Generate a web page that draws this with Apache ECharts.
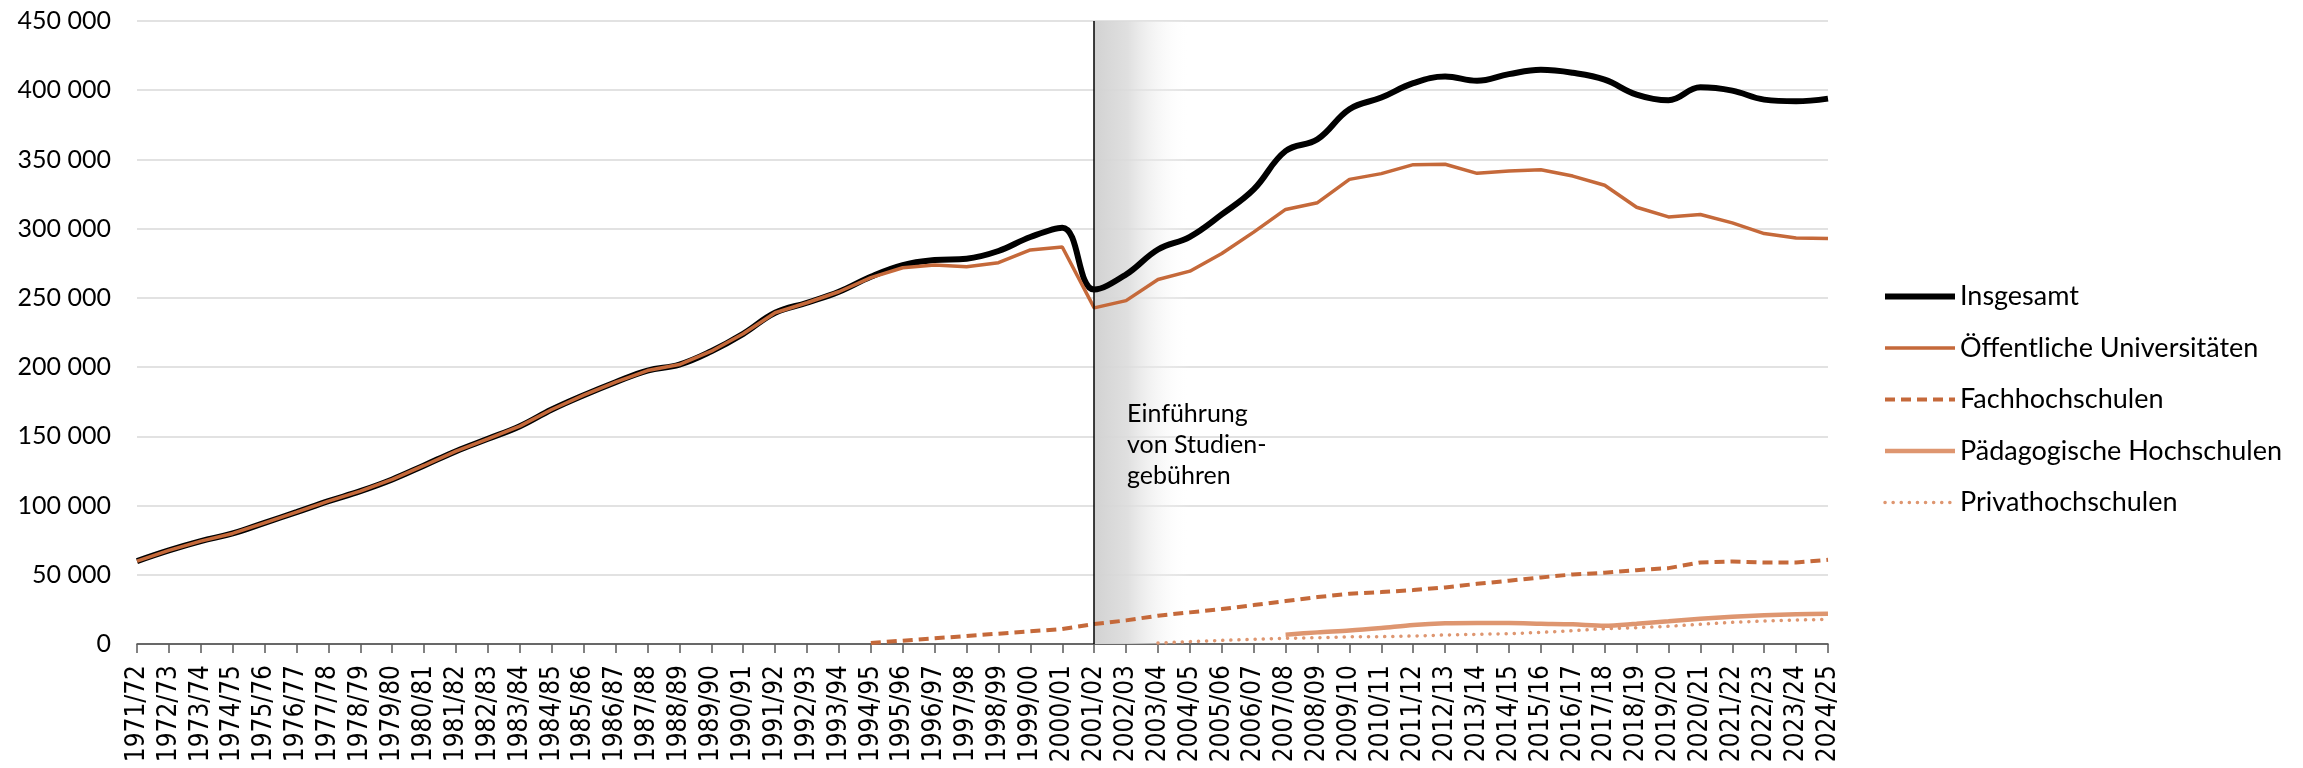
<!DOCTYPE html>
<html>
<head>
<meta charset="utf-8">
<script src="https://cdn.jsdelivr.net/npm/echarts@6/dist/echarts.min.js"></script>
<style>
html,body{margin:0;padding:0;background:#fff;}
#chart{width:2303px;height:768px;}
</style>
</head>
<body>
<div id="chart"></div>
<script>
const categories = ['1971/72','1972/73','1973/74','1974/75','1975/76','1976/77','1977/78','1978/79','1979/80','1980/81',
'1981/82','1982/83','1983/84','1984/85','1985/86','1986/87','1987/88','1988/89','1989/90','1990/91',
'1991/92','1992/93','1993/94','1994/95','1995/96','1996/97','1997/98','1998/99','1999/00','2000/01',
'2001/02','2002/03','2003/04','2004/05','2005/06','2006/07','2007/08','2008/09','2009/10','2010/11',
'2011/12','2012/13','2013/14','2014/15','2015/16','2016/17','2017/18','2018/19','2019/20','2020/21',
'2021/22','2022/23','2023/24','2024/25'];

const insgesamt = [59900, 67600, 74300, 79850, 87550, 95250, 103200, 110400, 118850, 128950,
139300, 148200, 157350, 169400, 179700, 189100, 197500, 201850, 211500, 224050,
239250, 246500, 254450, 265300, 273700, 277350, 278300, 283850, 294000, 300750,
256000, 266900, 284950, 294150, 310300, 328400, 356100, 364600, 386300, 394700,
405100, 409900, 406800, 411600, 414750, 412600, 407650, 396850, 392750, 402100,
399700, 393200, 392000, 393950];

const universitaeten = [59900, 67600, 74300, 79850, 87550, 95250, 103200, 110400, 118850, 128950,
139300, 148200, 157350, 169400, 179700, 189100, 197500, 201850, 211500, 224050,
239250, 246500, 254450, 264600, 271800, 273750, 272500, 275400, 284600, 286750,
242800, 248050, 263250, 269300, 282100, 297500, 313900, 318750, 335600, 339750,
346250, 346500, 339950, 341650, 342600, 338000, 331350, 315450, 308500, 310200,
304150, 296450, 293300, 292850];

const fachhochschulen = [null, null, null, null, null, null, null, null, null, null,
null, null, null, null, null, null, null, null, null, null,
null, null, null, 700, 2400, 4100, 5800, 7450, 9150, 10800,
14400, 17050, 20450, 22850, 25250, 28100, 31000, 33900, 36300, 37500,
38950, 40850, 43500, 45700, 48100, 50250, 51450, 53350, 54800, 58900,
59600, 58900, 58900, 60800];

const paedagogische = [null, null, null, null, null, null, null, null, null, null,
null, null, null, null, null, null, null, null, null, null,
null, null, null, null, null, null, null, null, null, null,
null, null, null, null, null, null, 6700, 8400, 9700, 11550,
13700, 14900, 15150, 15150, 14650, 14200, 13200, 14650, 16350, 18250,
19700, 20700, 21400, 21900];

const privat = [null, null, null, null, null, null, null, null, null, null,
null, null, null, null, null, null, null, null, null, null,
null, null, null, null, null, null, null, null, null, null,
null, null, 700, 1700, 2600, 3350, 4100, 4550, 5150, 5300,
5750, 6500, 7000, 7450, 8400, 9600, 11050, 11800, 12750, 14200,
15650, 16600, 17300, 17800];

const yTicks = {min: 0, max: 450000, interval: 50000};
const seriesNames = ['Insgesamt','Öffentliche Universitäten','Fachhochschulen','Pädagogische Hochschulen','Privathochschulen'];
const eventCategory = '2001/02';
const fadeEndCategory = '2004/05';
const annotation = 'Einführung\nvon Studien-\ngebühren';

const ORANGE = '#C5693A';
const LIGHT = '#DE9670';
const widths = [6, 3.5, 4, 4.5, 3.5];

function fmt(v){ return String(v).replace(/\B(?=(\d{3})+(?!\d))/g, ' '); }

const chart = echarts.init(document.getElementById('chart'), null, {renderer:'canvas'});
chart.setOption({
  animation: false,
  backgroundColor: '#fff',
  grid: {left: 137, right: 475, top: 21, bottom: 124, containLabel: false},
  legend: {
    orient: 'vertical', left: 1877, top: 278,
    itemWidth: 70, itemHeight: 14, itemGap: 24.5,
    itemStyle: {opacity: 0},
    textStyle: {fontFamily: 'Lato', fontSize: 27, color: '#000', lineHeight: 27, padding: [0,0,0,0]},
    data: seriesNames.map((n, i) => ({name: n, lineStyle: {width: widths[i]}}))
  },
  xAxis: {
    type: 'category', data: categories, boundaryGap: false,
    axisLine: {lineStyle: {color: '#404040', width: 1.5}},
    axisTick: {show: true, length: 9, lineStyle: {color: '#595959', width: 1.5}, interval: 0},
    axisLabel: {interval: 0, rotate: 90, margin: 21, fontFamily: 'DejaVu Sans Condensed', fontSize: 26, color: '#000'},
    splitLine: {show: false}
  },
  yAxis: {
    type: 'value', min: yTicks.min, max: yTicks.max, interval: yTicks.interval,
    axisLine: {show: false}, axisTick: {show: false},
    axisLabel: {formatter: fmt, fontFamily: 'Lato', fontSize: 25, color: '#000', margin: 26},
    splitLine: {lineStyle: {color: '#d9d9d9', width: 1.5}}
  },
  graphic: [{
    type: 'text', left: 1127, top: 398, z: 100,
    style: {text: annotation, font: '25px Lato', fill: '#000', lineHeight: 31}
  }],
  series: [
    {
      name: seriesNames[0], type: 'line', data: insgesamt, smooth: 0.4, symbol: 'none', z: 3,
      lineStyle: {color: '#000', width: widths[0]}, itemStyle: {color: '#000'},
      markArea: {
        silent: true,
        itemStyle: {color: {type: 'linear', x: 0, y: 0, x2: 1, y2: 0,
          colorStops: [{offset: 0, color: 'rgba(210,210,210,1)'}, {offset: 0.35, color: 'rgba(220,220,220,0.9)'}, {offset: 1, color: 'rgba(255,255,255,0)'}]}},
        data: [[{xAxis: eventCategory}, {xAxis: fadeEndCategory}]]
      },
      markLine: {
        silent: true, symbol: ['none','none'], label: {show: false},
        lineStyle: {color: '#000', width: 1.5, type: 'solid'},
        data: [{xAxis: eventCategory}]
      }
    },
    {
      name: seriesNames[1], type: 'line', data: universitaeten, smooth: false, symbol: 'none', z: 4,
      lineStyle: {color: ORANGE, width: widths[1]}, itemStyle: {color: ORANGE}
    },
    {
      name: seriesNames[2], type: 'line', data: fachhochschulen, smooth: false, symbol: 'none', z: 4,
      lineStyle: {color: ORANGE, width: widths[2], type: [10, 6]}, itemStyle: {color: ORANGE}
    },
    {
      name: seriesNames[3], type: 'line', data: paedagogische, smooth: 0.3, symbol: 'none', z: 4,
      lineStyle: {color: LIGHT, width: widths[3]}, itemStyle: {color: LIGHT}
    },
    {
      name: seriesNames[4], type: 'line', data: privat, smooth: false, symbol: 'none', z: 4,
      lineStyle: {color: LIGHT, width: widths[4], type: [0.1, 8], cap: 'round'}, itemStyle: {color: LIGHT}
    }
  ]
});
</script>
</body>
</html>
